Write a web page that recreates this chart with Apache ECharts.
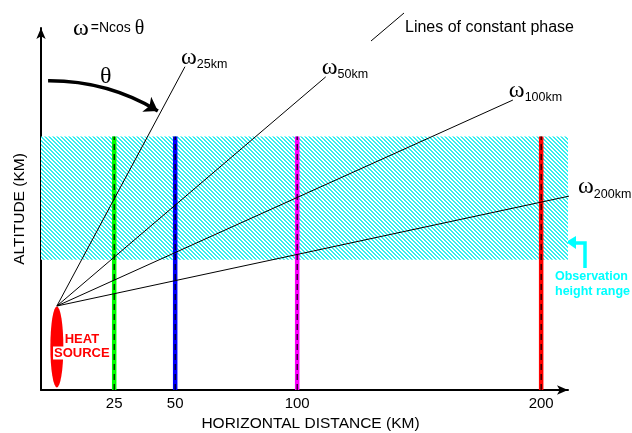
<!DOCTYPE html>
<html>
<head>
<meta charset="utf-8">
<script src="https://cdn.jsdelivr.net/npm/echarts@6/dist/echarts.min.js"></script>
<style>
  html, body { margin: 0; padding: 0; background: #fff; overflow: hidden; }
  #chart { width: 632px; height: 433px; }
</style>
</head>
<body>
<div id="chart"></div>
<script>
// Horizontal distances (km) of the observation columns and their colours
const distances = [25, 50, 100, 200];
const columnColors = ['#00ff00', '#0000ff', '#ff00ff', '#ff0000'];
const tickLabels = ['25', '50', '100', '200'];

// Altitude scale is schematic (0–100); observation band limits
const bandBottom = 36;
const bandTop = 70;
const columnTop = 70;

// Heat source position and the far ends of the constant-phase lines
const sourcePoint = [1.5, 23.2];
const phaseLabels = ['25km', '50km', '100km', '200km'];
const phaseEnds = [[54.0, 89.3], [111.7, 86.5], [188.4, 80.1], [216.6, 54.3]];

// Heat source ellipse centre
const heatCenter = [1.5, 11.9];

// Curved θ arrow
const thetaArrow = [[-2.1, 85.4], [42.9, 77.1]];

const SANS = '"Liberation Sans", Arial, sans-serif';
const SERIF = '"Liberation Serif", "Times New Roman", serif';

// Diagonal cyan hatching for the observation band
function hatchPattern() {
  const c = document.createElement('canvas');
  c.width = 4; c.height = 4;
  const g = c.getContext('2d');
  g.fillStyle = '#ffffff';
  g.fillRect(0, 0, 4, 4);
  g.fillStyle = '#33eeee';
  for (let y = 0; y < 4; y++) {
    for (let x = 0; x < 4; x++) {
      if (((x - y) % 4 + 4) % 4 < 2) g.fillRect(x, y, 1, 1);
    }
  }
  return c;
}

const chart = echarts.init(document.getElementById('chart'), null, { renderer: 'canvas', width: 632, height: 433 });

const series = [];

// Observation height band
series.push({
  type: 'line',
  name: 'band',
  data: [],
  silent: true,
  z: 1,
  markArea: {
    silent: true,
    itemStyle: { color: { image: hatchPattern(), repeat: 'repeat' } },
    data: [[{ xAxis: -5, yAxis: bandBottom }, { xAxis: 211, yAxis: bandTop }]]
  }
});

// Coloured observation columns with dashed centre lines
distances.forEach((d, i) => {
  series.push({
    type: 'line',
    data: [[d, 0], [d, columnTop]],
    showSymbol: false,
    silent: true,
    z: 2,
    lineStyle: { color: columnColors[i], width: 4.5 }
  });
  series.push({
    type: 'line',
    data: [[d, 0], [d, columnTop]],
    showSymbol: false,
    silent: true,
    z: 3,
    lineStyle: { color: '#000', width: 1.2, type: [6, 4] }
  });
});

// Lines of constant phase radiating from the heat source
const endLabelShift = [-12, -12, -12, 1];
phaseEnds.forEach((end, i) => {
  series.push({
    type: 'line',
    data: [sourcePoint, end],
    showSymbol: false,
    clip: false,
    silent: true,
    z: 4,
    lineStyle: { color: '#000', width: 1 },
    endLabel: {
      show: true,
      formatter: '{w|ω}{s|' + phaseLabels[i] + '}',
      offset: [endLabelShift[i], -2],
      rich: {
        w: { fontFamily: SERIF, fontSize: 24, color: '#000', padding: [0, 0, 14, 0] },
        s: { fontFamily: SANS, fontSize: 12.5, color: '#000' }
      }
    }
  });
});

// Heat source
series.push({
  type: 'scatter',
  data: [heatCenter],
  symbol: 'circle',
  symbolSize: [13, 81],
  silent: true,
  z: 5,
  itemStyle: { color: '#ff0000', opacity: 1 },
  label: {
    show: true,
    position: 'inside',
    offset: [25, -1],
    formatter: '{h|HEAT}\n{s|SOURCE}',
    rich: {
      h: { fontFamily: SANS, fontWeight: 'bold', fontSize: 13, color: '#ff0000', lineHeight: 14 },
      s: { fontFamily: SANS, fontWeight: 'bold', fontSize: 13, color: '#ff0000', lineHeight: 14,
           backgroundColor: '#ffffff', padding: [0, 1, 0, 1] }
    }
  }
});

// θ rotation arrow
series.push({
  type: 'lines',
  coordinateSystem: 'cartesian2d',
  silent: true,
  z: 6,
  symbol: ['none', 'arrow'],
  symbolSize: 13,
  lineStyle: { color: '#000', width: 3.5, curveness: 0.14, opacity: 1 },
  data: [{ coords: thetaArrow }]
});

chart.setOption({
  animation: false,
  backgroundColor: '#ffffff',
  grid: { left: 41, width: 527, top: 28, height: 362, containLabel: false, outerBoundsMode: 'none' },
  xAxis: {
    type: 'value',
    min: -5,
    max: 211,
    name: 'HORIZONTAL DISTANCE (KM)',
    nameLocation: 'middle',
    nameGap: 26,
    nameTextStyle: { fontFamily: SANS, fontSize: 15.5, color: '#000', padding: [0, 0, 0, 12] },
    axisLine: { show: true, onZero: false, symbol: ['none', 'arrow'], symbolSize: [7, 11], lineStyle: { color: '#000', width: 2 } },
    axisTick: { show: false },
    splitLine: { show: false },
    axisLabel: {
      customValues: distances,
      formatter: (v) => tickLabels[distances.indexOf(v)] || '',
      fontFamily: SANS, fontSize: 15, color: '#000', margin: 6
    }
  },
  yAxis: {
    type: 'value',
    min: 0,
    max: 100,
    name: 'ALTITUDE (KM)',
    nameLocation: 'middle',
    nameGap: 13,
    nameTextStyle: { fontFamily: SANS, fontSize: 15.5, color: '#000' },
    axisLine: { show: true, onZero: false, symbol: ['none', 'arrow'], symbolSize: [7, 11], lineStyle: { color: '#000', width: 2 } },
    axisTick: { show: false },
    axisLabel: { show: false },
    splitLine: { show: false }
  },
  graphic: [
    {
      type: 'text',
      left: 73, top: 17,
      style: {
        text: '{w|ω}{n|=Ncos}{t|θ}',
        rich: {
          w: { fontFamily: SERIF, fontSize: 24, color: '#000', padding: [0, 2, 0, 0] },
          n: { fontFamily: SANS, fontSize: 14, color: '#000', padding: [0, 4, 2, 0] },
          t: { fontFamily: SERIF, fontSize: 20, color: '#000' }
        }
      }
    },
    {
      type: 'text',
      left: 100, top: 65,
      style: { text: 'θ', fontFamily: SERIF, fontSize: 24, fill: '#000' }
    },
    {
      type: 'line',
      shape: { x1: 371, y1: 41, x2: 404, y2: 13 },
      style: { stroke: '#000', lineWidth: 1 }
    },
    {
      type: 'text',
      left: 405, top: 20,
      style: { text: 'Lines of constant phase', fontFamily: SANS, fontSize: 16, fill: '#000' }
    },
    {
      type: 'polyline',
      shape: { points: [[585, 268], [585, 243], [574, 243]] },
      style: { stroke: '#00ffff', lineWidth: 3.5, fill: null }
    },
    {
      type: 'polygon',
      shape: { points: [[566, 242], [576, 236], [576, 249]] },
      style: { fill: '#00ffff' }
    },
    {
      type: 'text',
      left: 555, top: 269,
      style: {
        text: 'Observation\nheight range',
        fontFamily: SANS, fontWeight: 'bold', fontSize: 12.5, lineHeight: 15,
        fill: '#00ffff', align: 'left'
      }
    }
  ],
  series: series
});
</script>
</body>
</html>
